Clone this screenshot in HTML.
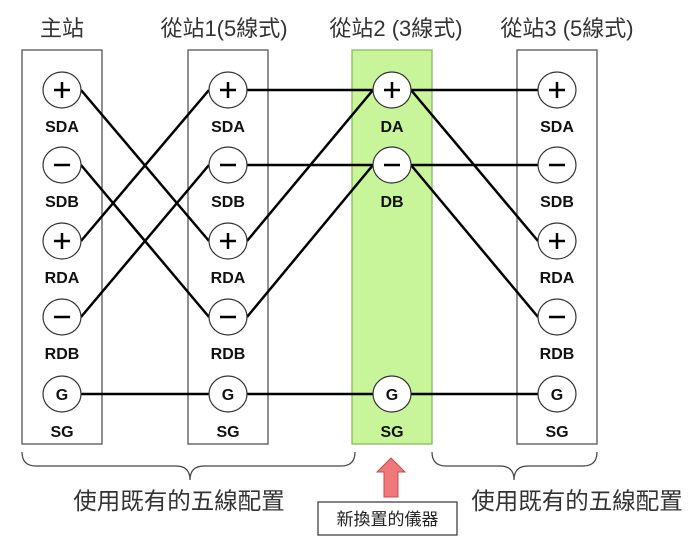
<!DOCTYPE html>
<html><head><meta charset="utf-8"><style>
html,body{margin:0;padding:0;background:#fff;}
svg text{font-family:"Liberation Sans","Noto Sans CJK TC",sans-serif;}
</style></head><body>
<svg width="700" height="540" viewBox="0 0 700 540" xmlns="http://www.w3.org/2000/svg">
<g font-size="22" fill="#333" text-anchor="middle">
<text x="62" y="36">主站</text>
<text x="224" y="36">從站1(5線式)</text>
<text x="396" y="36">從站2 (3線式)</text>
<text x="567" y="36">從站3 (5線式)</text>
</g>
<g stroke="#555" stroke-width="1.3">
<rect x="22" y="50" width="80" height="394" fill="#fff"/>
<rect x="188" y="50" width="80" height="394" fill="#fff"/>
<rect x="352" y="50" width="80" height="394" fill="#c8f59a" stroke="#8ab860"/>
<rect x="517" y="50" width="80" height="394" fill="#fff"/>
</g>
<g stroke="#000" stroke-width="2.5" fill="none">
<line x1="81" y1="90" x2="209" y2="241"/>
<line x1="81" y1="165" x2="209" y2="317"/>
<line x1="81" y1="241" x2="209" y2="90"/>
<line x1="81" y1="317" x2="209" y2="165"/>
<line x1="247" y1="90" x2="373" y2="90"/>
<line x1="247" y1="165" x2="373" y2="165"/>
<line x1="247" y1="241" x2="373" y2="90"/>
<line x1="247" y1="317" x2="373" y2="165"/>
<line x1="411" y1="90" x2="538" y2="90"/>
<line x1="411" y1="90" x2="538" y2="241"/>
<line x1="411" y1="165" x2="538" y2="165"/>
<line x1="411" y1="165" x2="538" y2="317"/>
<line x1="81" y1="394" x2="538" y2="394"/>
</g>
<g fill="#fff" stroke="#333" stroke-width="1.2">
<ellipse cx="62" cy="90" rx="19" ry="18"/><ellipse cx="62" cy="165" rx="19" ry="18"/><ellipse cx="62" cy="241" rx="19" ry="18"/><ellipse cx="62" cy="317" rx="19" ry="18"/><ellipse cx="62" cy="394" rx="19" ry="18"/>
<ellipse cx="228" cy="90" rx="19" ry="18"/><ellipse cx="228" cy="165" rx="19" ry="18"/><ellipse cx="228" cy="241" rx="19" ry="18"/><ellipse cx="228" cy="317" rx="19" ry="18"/><ellipse cx="228" cy="394" rx="19" ry="18"/>
<ellipse cx="392" cy="90" rx="19" ry="18"/><ellipse cx="392" cy="165" rx="19" ry="18"/><ellipse cx="392" cy="394" rx="19" ry="18"/>
<ellipse cx="557" cy="90" rx="19" ry="18"/><ellipse cx="557" cy="165" rx="19" ry="18"/><ellipse cx="557" cy="241" rx="19" ry="18"/><ellipse cx="557" cy="317" rx="19" ry="18"/><ellipse cx="557" cy="394" rx="19" ry="18"/>
</g>
<g stroke="#000" stroke-width="2.5">
<path d="M54 90h16M62 82v16M220 90h16M228 82v16M384 90h16M392 82v16M549 90h16M557 82v16"/>
<path d="M54 241h16M62 233v16M220 241h16M228 233v16M549 241h16M557 233v16"/>
<path d="M54 165h16M220 165h16M384 165h16M549 165h16M54 317h16M220 317h16M549 317h16"/>
</g>
<g font-size="16" font-weight="bold" text-anchor="middle" fill="#111">
<text x="62" y="400">G</text><text x="228" y="400">G</text><text x="392" y="400">G</text><text x="557" y="400">G</text>
<text x="62" y="132">SDA</text><text x="62" y="207">SDB</text><text x="62" y="283">RDA</text><text x="62" y="359">RDB</text><text x="62" y="437">SG</text>
<text x="228" y="132">SDA</text><text x="228" y="207">SDB</text><text x="228" y="283">RDA</text><text x="228" y="359">RDB</text><text x="228" y="437">SG</text>
<text x="392" y="132">DA</text><text x="392" y="207">DB</text><text x="392" y="437">SG</text>
<text x="557" y="132">SDA</text><text x="557" y="207">SDB</text><text x="557" y="283">RDA</text><text x="557" y="359">RDB</text><text x="557" y="437">SG</text>
</g>
<g stroke="#444" stroke-width="1.2" fill="none">
<path d="M22 452 q0 14 14 14 H176 q14 0 14 14 q0 -14 14 -14 H341 q14 0 14 -14"/>
<path d="M432 452 q0 14 14 14 H500 q14 0 14 14 q0 -14 14 -14 H583 q14 0 14 -14"/>
</g>
<polygon points="391,458 405,472 398,472 398,497 384,497 384,472 377,472" fill="#f07878" stroke="#c05050" stroke-width="1"/>
<rect x="318" y="502" width="139" height="33" fill="#fff" stroke="#333" stroke-width="1.2"/>
<text x="387.5" y="525" font-size="17" text-anchor="middle" fill="#222">新換置的儀器</text>
<g font-size="23.5" fill="#333" text-anchor="middle">
<text x="179" y="509">使用既有的五線配置</text>
<text x="577" y="509">使用既有的五線配置</text>
</g>
</svg>
</body></html>
